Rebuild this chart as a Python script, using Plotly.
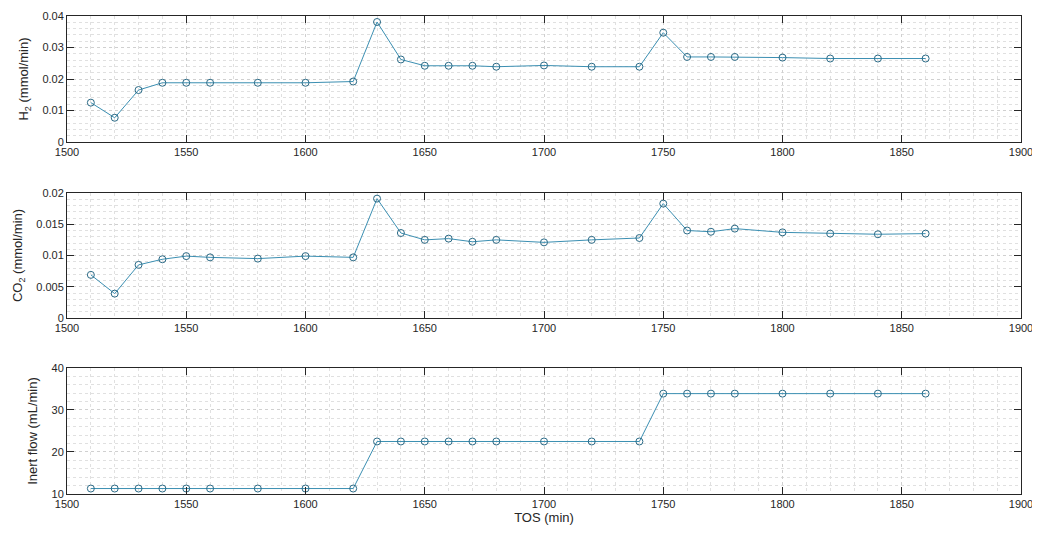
import plotly.graph_objects as go
from plotly.subplots import make_subplots

tos = [1510, 1520, 1530, 1540, 1550, 1560, 1580, 1600, 1620, 1630, 1640, 1650, 1660,
       1670, 1680, 1700, 1720, 1740, 1750, 1760, 1770, 1780, 1800, 1820, 1840, 1860]

h2 = [0.0125, 0.0077, 0.0165, 0.0188, 0.0188, 0.0188, 0.0188, 0.0188, 0.0192, 0.0381,
      0.0262, 0.0242, 0.0242, 0.0242, 0.0239, 0.0243, 0.0239, 0.0239, 0.0347, 0.0270,
      0.0270, 0.0270, 0.0268, 0.0265, 0.0265, 0.0265]

co2 = [0.0069, 0.0039, 0.0085, 0.0094, 0.0099, 0.0097, 0.0095, 0.0099, 0.0097, 0.0191,
       0.0136, 0.0125, 0.0127, 0.0122, 0.0125, 0.0121, 0.0125, 0.0128, 0.0183, 0.0140,
       0.0138, 0.0143, 0.0137, 0.0135, 0.0134, 0.0135]

inert = [11.3, 11.3, 11.3, 11.3, 11.3, 11.3, 11.3, 11.3, 11.3, 22.5, 22.5, 22.5, 22.5,
         22.5, 22.5, 22.5, 22.5, 22.5, 33.9, 33.9, 33.9, 33.9, 33.9, 33.9, 33.9, 33.9]

y_titles = ["H<sub>2</sub> (mmol/min)", "CO<sub>2</sub> (mmol/min)", "Inert flow (mL/min)"]
y_ranges = [[0, 0.04], [0, 0.02], [10, 40]]
y_dticks = [0.01, 0.005, 10]
y_minor = [0.002, 0.001, 2]
x_ticks = [1500, 1550, 1600, 1650, 1700, 1750, 1800, 1850, 1900]

series = [h2, co2, inert]

LINE = "#3b8fb2"
MARK = "#2b6a86"
TXT = "#262626"
FONT = "Liberation Sans, Arial, sans-serif"

fig = make_subplots(rows=3, cols=1, vertical_spacing=0.1)

for i, ys in enumerate(series):
    fig.add_trace(go.Scatter(
        x=tos, y=ys, mode="lines+markers",
        line=dict(color=LINE, width=1),
        marker=dict(symbol="circle-open", size=7, color=MARK, line=dict(width=1, color=MARK)),
        showlegend=False,
    ), row=i + 1, col=1)

domains = [[0.7364, 1.0], [0.3682, 0.6297], [0.0, 0.2636]]
for i in range(3):
    xa = "xaxis" if i == 0 else f"xaxis{i+1}"
    ya = "yaxis" if i == 0 else f"yaxis{i+1}"
    fig.layout[xa].update(
        range=[1500, 1900], tickvals=x_ticks, showline=True, linecolor=TXT, linewidth=1,
        mirror="ticks", ticks="inside", ticklen=7, tickcolor=TXT, tickwidth=1,
        showgrid=True, gridcolor="#d0d0d0", griddash="dot", gridwidth=1,
        minor=dict(dtick=10, tick0=1500, showgrid=True, gridcolor="#e0e0e0", griddash="dot", gridwidth=1),
        zeroline=False, automargin=False, ticklabeloverflow="allow",
        tickfont=dict(family=FONT, size=11, color=TXT),
    )
    fig.layout[ya].update(
        domain=domains[i], range=y_ranges[i], dtick=y_dticks[i], tick0=y_ranges[i][0],
        showline=True, linecolor=TXT, linewidth=1,
        mirror="ticks", ticks="inside", ticklen=7, tickcolor=TXT, tickwidth=1,
        showgrid=True, gridcolor="#d0d0d0", griddash="dot", gridwidth=1,
        minor=dict(dtick=y_minor[i], tick0=y_ranges[i][0], showgrid=True, gridcolor="#e0e0e0", griddash="dot", gridwidth=1),
        zeroline=False, automargin=False, tickfont=dict(family=FONT, size=11, color=TXT),
        title=dict(text=y_titles[i], font=dict(family=FONT, size=13, color=TXT), standoff=10),
    )

fig.layout["xaxis3"].title = dict(text="TOS (min)", font=dict(family=FONT, size=13, color=TXT), standoff=3)

fig.update_layout(
    width=1032, height=519,
    margin=dict(l=59, r=19, t=8, b=33),
    paper_bgcolor="white", plot_bgcolor="white",
    font=dict(family=FONT, color=TXT),
)

fig.write_html("out.html")
